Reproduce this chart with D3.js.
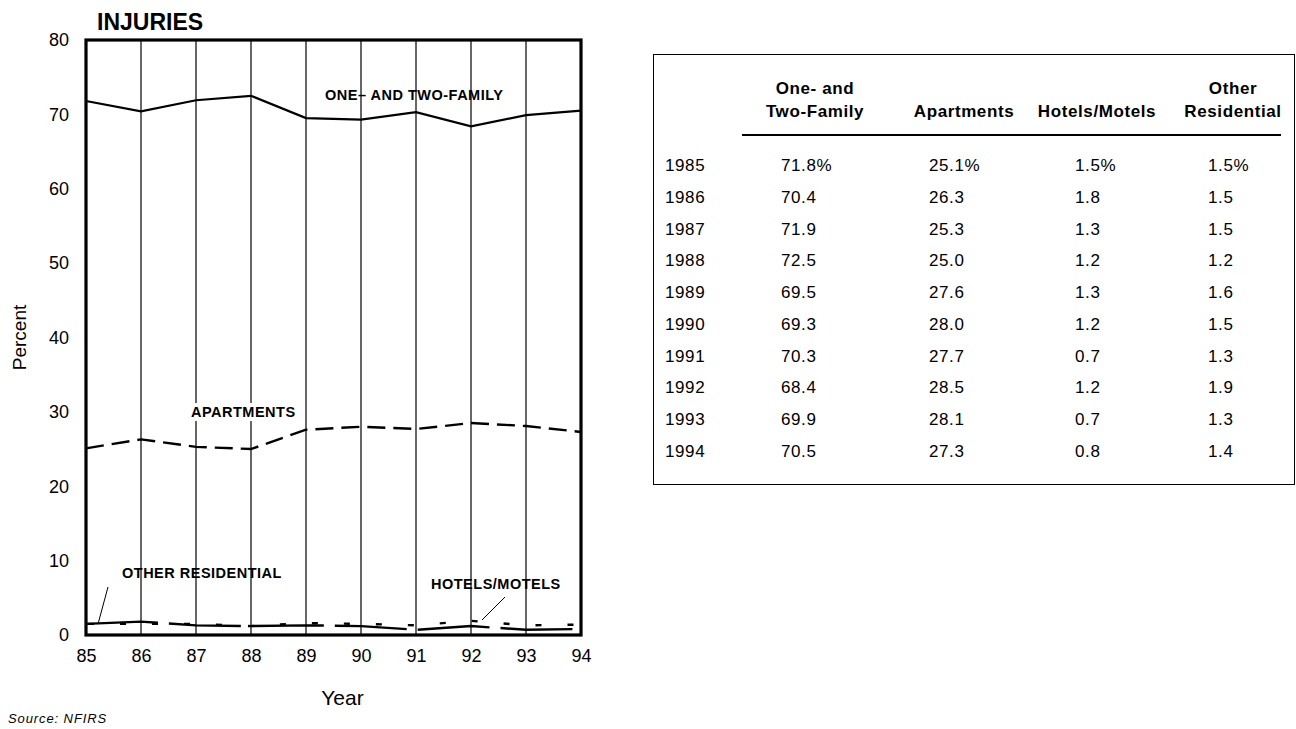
<!DOCTYPE html>
<html>
<head>
<meta charset="utf-8">
<script src="https://cdn.jsdelivr.net/npm/d3@7"></script>
<style>
  body { margin: 0; background: #fff; }
  svg { display: block; }
  text { font-family: "Liberation Sans", Arial, sans-serif; fill: #000; }
</style>
</head>
<body>
<div id="chart"></div>
<script>
'use strict'

// ---------- data ----------
const years = [85, 86, 87, 88, 89, 90, 91, 92, 93, 94];
const fullYears = [1985, 1986, 1987, 1988, 1989, 1990, 1991, 1992, 1993, 1994];
const oneTwo = [71.8, 70.4, 71.9, 72.5, 69.5, 69.3, 70.3, 68.4, 69.9, 70.5];
const apartments = [25.1, 26.3, 25.3, 25.0, 27.6, 28.0, 27.7, 28.5, 28.1, 27.3];
const hotels = [1.5, 1.8, 1.3, 1.2, 1.3, 1.2, 0.7, 1.2, 0.7, 0.8];
const otherRes = [1.5, 1.5, 1.5, 1.2, 1.6, 1.5, 1.3, 1.9, 1.3, 1.4];
const yTicks = [0, 10, 20, 30, 40, 50, 60, 70, 80];

const W = 1296, H = 729;

const svg = d3.select('#chart').append('svg')
  .attr('width', W).attr('height', H);

// ---------- scales ----------
const x = d3.scaleLinear().domain([85, 94]).range([86, 581]);
const y = d3.scaleLinear().domain([0, 80]).range([635, 40]);

// ---------- grid ----------
svg.append('g')
  .selectAll('line')
  .data(years.slice(1, -1))
  .join('line')
  .attr('x1', d => x(d)).attr('x2', d => x(d))
  .attr('y1', y(80)).attr('y2', y(0))
  .attr('stroke', '#000').attr('stroke-width', 1.2);

// ---------- axes (labels only) ----------
const yAxis = svg.append('g')
  .attr('transform', `translate(${x(85) - 17},0)`)
  .call(d3.axisLeft(y).tickValues(yTicks).tickSize(0).tickPadding(0));
yAxis.select('.domain').remove();
yAxis.selectAll('text').attr('font-size', 18).style('font-family', null);

const xAxis = svg.append('g')
  .attr('transform', `translate(0,${y(0) + 10})`)
  .call(d3.axisBottom(x).tickValues(years).tickFormat(d3.format('d')).tickSize(0).tickPadding(4));
xAxis.select('.domain').remove();
xAxis.selectAll('text').attr('font-size', 18).style('font-family', null);

// ---------- lines ----------
const line = vals => d3.line()
  .x((d, i) => x(years[i]))
  .y(d => y(d))(vals);

svg.append('path').attr('d', line(oneTwo))
  .attr('fill', 'none').attr('stroke', '#000').attr('stroke-width', 2.2);

svg.append('path').attr('d', line(apartments))
  .attr('fill', 'none').attr('stroke', '#000').attr('stroke-width', 2.4)
  .attr('stroke-dasharray', '18,8');

svg.append('path').attr('d', line(otherRes))
  .attr('fill', 'none').attr('stroke', '#000').attr('stroke-width', 2.4)
  .attr('stroke-dasharray', '6,26').attr('stroke-dashoffset', -34);

svg.append('path').attr('d', line(hotels))
  .attr('fill', 'none').attr('stroke', '#000').attr('stroke-width', 2.4)
  .attr('stroke-dasharray', '72,11');

// ---------- frame ----------
svg.append('rect')
  .attr('x', x(85)).attr('y', y(80))
  .attr('width', x(94) - x(85)).attr('height', y(0) - y(80))
  .attr('fill', 'none').attr('stroke', '#000').attr('stroke-width', 3.2);

// ---------- series labels ----------
const lab = (tx, ty, str, bg) => {
  const t = svg.append('text').attr('x', tx).attr('y', ty)
    .attr('font-size', 14.5).attr('font-weight', 'bold')
    .attr('letter-spacing', 0.5)
    .attr('dominant-baseline', 'central').text(str);
  if (bg) {
    const b = t.node().getBBox();
    svg.insert('rect', () => t.node())
      .attr('x', b.x - 2).attr('y', b.y - 1)
      .attr('width', b.width + 4).attr('height', b.height + 2)
      .attr('fill', '#fff');
  }
  return t;
};
lab(325, 95, 'ONE\u2013 AND TWO-FAMILY', false);
lab(191, 412, 'APARTMENTS', true);
lab(122, 573, 'OTHER RESIDENTIAL', false);
lab(431, 584, 'HOTELS/MOTELS', false);

svg.append('line').attr('x1', 108).attr('y1', 587).attr('x2', 98).attr('y2', 624)
  .attr('stroke', '#000').attr('stroke-width', 1);
svg.append('line').attr('x1', 505).attr('y1', 597).attr('x2', 482).attr('y2', 620)
  .attr('stroke', '#000').attr('stroke-width', 1);

// ---------- titles ----------
svg.append('text').attr('x', 97).attr('y', 30)
  .attr('font-size', 23).attr('font-weight', 'bold').text('INJURIES');

svg.append('text')
  .attr('transform', `translate(26,${(y(0) + y(80)) / 2}) rotate(-90)`)
  .attr('text-anchor', 'middle').attr('font-size', 19).text('Percent');

svg.append('text').attr('x', (x(85) + x(94)) / 2 + 9).attr('y', 705)
  .attr('text-anchor', 'middle').attr('font-size', 21).text('Year');

svg.append('text').attr('x', 8).attr('y', 723)
  .attr('font-size', 13).attr('font-style', 'italic').attr('letter-spacing', 0.9)
  .text('Source:  NFIRS');

// ---------- table ----------
const tbl = svg.append('g');
tbl.append('rect').attr('x', 653.5).attr('y', 54.5)
  .attr('width', 641).attr('height', 430)
  .attr('fill', 'none').attr('stroke', '#000').attr('stroke-width', 1);

const cols = [
  { head: ['One- and', 'Two-Family'], cx: 815, vx: 781, vals: oneTwo },
  { head: ['Apartments'], cx: 964, vx: 929, vals: apartments },
  { head: ['Hotels/Motels'], cx: 1097, vx: 1075, vals: hotels },
  { head: ['Other', 'Residential'], cx: 1233, vx: 1208, vals: otherRes }
];

cols.forEach(c => {
  c.head.forEach((h, j) => {
    tbl.append('text')
      .attr('x', c.cx).attr('y', 117 - (c.head.length - 1 - j) * 23)
      .attr('text-anchor', 'middle').attr('font-size', 17).attr('font-weight', 'bold')
      .attr('letter-spacing', 0.6)
      .text(h);
  });
});

tbl.append('line').attr('x1', 742).attr('x2', 1281).attr('y1', 135).attr('y2', 135)
  .attr('stroke', '#000').attr('stroke-width', 2);

const rowY = d3.scaleLinear().domain([0, 9]).range([171, 457]);

tbl.selectAll('.yr').data(fullYears).join('text')
  .attr('class', 'yr')
  .attr('x', 665).attr('y', (d, i) => rowY(i))
  .attr('font-size', 17).attr('letter-spacing', 0.6).text(d => d);

cols.forEach(c => {
  tbl.selectAll(null).data(c.vals).join('text')
    .attr('x', c.vx).attr('y', (d, i) => rowY(i))
    .attr('font-size', 17).attr('letter-spacing', 0.6)
    .text((d, i) => d.toFixed(1) + (i === 0 ? '%' : ''));
});
</script>
</body>
</html>
